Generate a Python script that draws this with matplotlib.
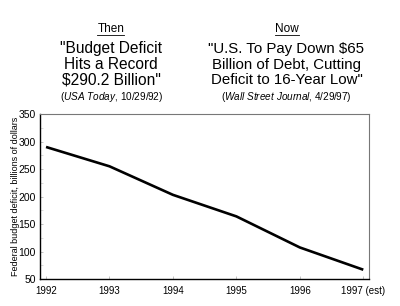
import matplotlib.pyplot as plt
from matplotlib.lines import Line2D

plt.rcParams['font.family'] = ['Liberation Sans', 'DejaVu Sans']
plt.rcParams['mathtext.fontset'] = 'custom'
plt.rcParams['mathtext.rm'] = 'Liberation Sans'
plt.rcParams['mathtext.it'] = 'Liberation Sans:italic'

# Data
years = [1992, 1993, 1994, 1995, 1996, 1997]
deficit = [290.3, 255.1, 203.2, 164.0, 107.5, 67.0]
year_labels = ['1992', '1993', '1994', '1995', '1996', '1997 (est)']
y_ticks = [50, 100, 150, 200, 250, 300, 350]

fig = plt.figure(figsize=(4.0, 3.06), dpi=100)
ax = fig.add_axes([0.1, 0.088, 0.8225, 0.539])

ax.plot(years, deficit, color='black', linewidth=1.9, solid_capstyle='butt')
ax.set_xlim(1991.905, 1997.09)
ax.set_ylim(50, 350)
ax.set_xticks(years)
ax.set_xticklabels(year_labels, fontsize=7)
ax.set_yticks(y_ticks)
ax.set_yticks([75, 125, 175, 225, 275, 325], minor=True)
ax.tick_params(axis='y', labelsize=7.5, direction='in', length=2, width=0.5, color='#aaaaaa', pad=3)
ax.tick_params(axis='y', which='minor', direction='in', length=2, width=0.5, color='#cccccc')
ax.tick_params(axis='x', direction='in', length=2, width=0.5, color='#aaaaaa', pad=5)
ax.set_ylabel('Federal budget deficit, billions of dollars', fontsize=6.5, labelpad=-1)

for side in ['left', 'bottom']:
    ax.spines[side].set_color('black')
    ax.spines[side].set_linewidth(1.0)
for side in ['top', 'right']:
    ax.spines[side].set_color('#777777')
    ax.spines[side].set_linewidth(0.8)

# Headlines
fig.text(0.2775, 1 - 29 / 306, 'Then', ha='center', va='center', fontsize=8.5)
fig.add_artist(Line2D([0.243, 0.311], [1 - 34.5 / 306] * 2, color='black', linewidth=0.6))
fig.text(0.2775, 1 - 64.5 / 306, '"Budget Deficit\nHits a Record\n$290.2 Billion"',
         ha='center', va='center', fontsize=11.2, linespacing=1.07)
fig.text(0.2775, 1 - 97 / 306, r'($\it{USA\ Today}$, 10/29/92)', ha='center', va='center', fontsize=7.2)

fig.text(0.7175, 1 - 29 / 306, 'Now', ha='center', va='center', fontsize=8.5)
fig.add_artist(Line2D([0.6875, 0.7475], [1 - 34.5 / 306] * 2, color='black', linewidth=0.6))
fig.text(0.7162, 1 - 64.5 / 306, '"U.S. To Pay Down $65\nBillion of Debt, Cutting\nDeficit to 16-Year Low"',
         ha='center', va='center', fontsize=10.8, linespacing=1.1)
fig.text(0.7162, 1 - 97 / 306, r'($\it{Wall\ Street\ Journal}$, 4/29/97)', ha='center', va='center', fontsize=7.2)

fig.savefig('out.png', dpi=100)
